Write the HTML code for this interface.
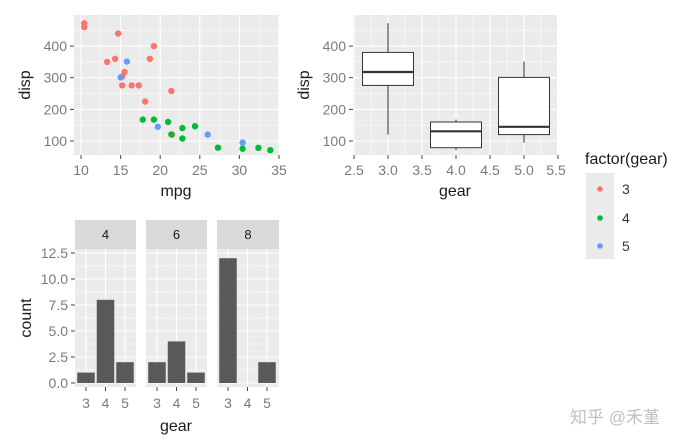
<!DOCTYPE html>
<html><head><meta charset="utf-8"><style>
html,body{margin:0;padding:0;background:#fff;}
svg{display:block;font-family:"Liberation Sans","Noto Sans CJK SC",sans-serif;}
.t{fill:#7a7a7a;font-size:14px;}
.a{fill:#1a1a1a;font-size:16px;}
.mj{stroke:#fff;stroke-width:1.1;}
.mn{stroke:#fff;stroke-width:0.5;}
.tk{stroke:#444;stroke-width:1;}
.bx{fill:#fff;stroke:#333;stroke-width:1;}
.bar{fill:#595959;}
</style></head><body>
<svg width="696" height="447" viewBox="0 0 696 447">
<rect x="74" y="15" width="205" height="140" fill="#EBEBEB"/>
<g class="mn">
<line x1="100.8" y1="15" x2="100.8" y2="155"/><line x1="140.4" y1="15" x2="140.4" y2="155"/><line x1="180" y1="15" x2="180" y2="155"/><line x1="219.6" y1="15" x2="219.6" y2="155"/><line x1="259.2" y1="15" x2="259.2" y2="155"/>
<line x1="74" y1="125.2" x2="279" y2="125.2"/><line x1="74" y1="93.6" x2="279" y2="93.6"/><line x1="74" y1="61.9" x2="279" y2="61.9"/><line x1="74" y1="30.3" x2="279" y2="30.3"/>
</g>
<g class="mj">
<line x1="81" y1="15" x2="81" y2="155"/><line x1="120.6" y1="15" x2="120.6" y2="155"/><line x1="160.2" y1="15" x2="160.2" y2="155"/><line x1="199.8" y1="15" x2="199.8" y2="155"/><line x1="239.4" y1="15" x2="239.4" y2="155"/><line x1="279" y1="15" x2="279" y2="155"/>
<line x1="74" y1="141" x2="279" y2="141"/><line x1="74" y1="109.4" x2="279" y2="109.4"/><line x1="74" y1="77.7" x2="279" y2="77.7"/><line x1="74" y1="46.1" x2="279" y2="46.1"/>
</g>
<g fill="#F8766D">
<circle cx="171.3" cy="91" r="3.2"/><circle cx="149.9" cy="58.8" r="3.2"/><circle cx="145.2" cy="101.5" r="3.2"/><circle cx="115.1" cy="58.8" r="3.2"/><circle cx="131.7" cy="85.4" r="3.2"/><circle cx="138.8" cy="85.4" r="3.2"/><circle cx="122.2" cy="85.4" r="3.2"/><circle cx="84.2" cy="23.3" r="3.2"/><circle cx="84.2" cy="27.1" r="3.2"/><circle cx="118.2" cy="33.5" r="3.2"/><circle cx="172.1" cy="134.6" r="3.2"/><circle cx="124.6" cy="72" r="3.2"/><circle cx="122.2" cy="76.5" r="3.2"/><circle cx="107.1" cy="61.9" r="3.2"/><circle cx="153.9" cy="46.1" r="3.2"/>
</g>
<g fill="#00BA38">
<circle cx="168.1" cy="122" r="3.2"/><circle cx="182.4" cy="138.5" r="3.2"/><circle cx="195" cy="126.2" r="3.2"/><circle cx="182.4" cy="128.1" r="3.2"/><circle cx="153.9" cy="119.6" r="3.2"/><circle cx="142.8" cy="119.6" r="3.2"/><circle cx="258.4" cy="147.8" r="3.2"/><circle cx="242.6" cy="148.7" r="3.2"/><circle cx="270.3" cy="150.2" r="3.2"/><circle cx="218" cy="147.7" r="3.2"/><circle cx="171.3" cy="134.4" r="3.2"/>
</g>
<g fill="#619CFF">
<circle cx="207.7" cy="134.6" r="3.2"/><circle cx="242.6" cy="142.6" r="3.2"/><circle cx="126.9" cy="61.6" r="3.2"/><circle cx="157.8" cy="126.8" r="3.2"/><circle cx="120.6" cy="77.4" r="3.2"/>
</g>
<g class="tk">
<line x1="70" y1="141" x2="74" y2="141"/><line x1="70" y1="109.4" x2="74" y2="109.4"/><line x1="70" y1="77.7" x2="74" y2="77.7"/><line x1="70" y1="46.1" x2="74" y2="46.1"/>
<line x1="81" y1="155" x2="81" y2="159"/><line x1="120.6" y1="155" x2="120.6" y2="159"/><line x1="160.2" y1="155" x2="160.2" y2="159"/><line x1="199.8" y1="155" x2="199.8" y2="159"/><line x1="239.4" y1="155" x2="239.4" y2="159"/><line x1="279" y1="155" x2="279" y2="159"/>
</g>
<g class="t" text-anchor="end">
<text x="67" y="146">100</text><text x="67" y="114.4">200</text><text x="67" y="82.7">300</text><text x="67" y="51.1">400</text>
</g>
<g class="t" text-anchor="middle">
<text x="81" y="175">10</text><text x="120.6" y="175">15</text><text x="160.2" y="175">20</text><text x="199.8" y="175">25</text><text x="239.4" y="175">30</text><text x="279" y="175">35</text>
</g>
<text class="a" x="176" y="196" text-anchor="middle">mpg</text>
<text class="a" transform="translate(30,85) rotate(-90)" text-anchor="middle">disp</text>

<rect x="353" y="15" width="204" height="140" fill="#EBEBEB"/>
<g class="mn">
<line x1="371" y1="15" x2="371" y2="155"/><line x1="405" y1="15" x2="405" y2="155"/><line x1="439" y1="15" x2="439" y2="155"/><line x1="473" y1="15" x2="473" y2="155"/><line x1="507" y1="15" x2="507" y2="155"/><line x1="541" y1="15" x2="541" y2="155"/>
<line x1="353" y1="125.2" x2="557" y2="125.2"/><line x1="353" y1="93.6" x2="557" y2="93.6"/><line x1="353" y1="61.9" x2="557" y2="61.9"/><line x1="353" y1="30.3" x2="557" y2="30.3"/>
</g>
<g class="mj">
<line x1="354" y1="15" x2="354" y2="155"/><line x1="388" y1="15" x2="388" y2="155"/><line x1="422" y1="15" x2="422" y2="155"/><line x1="456" y1="15" x2="456" y2="155"/><line x1="490" y1="15" x2="490" y2="155"/><line x1="524" y1="15" x2="524" y2="155"/>
<line x1="353" y1="141" x2="557" y2="141"/><line x1="353" y1="109.4" x2="557" y2="109.4"/><line x1="353" y1="77.7" x2="557" y2="77.7"/><line x1="353" y1="46.1" x2="557" y2="46.1"/>
</g>
<g stroke="#333" stroke-width="1">
<line x1="388" y1="23.3" x2="388" y2="134.6"/>
<line x1="456" y1="119.6" x2="456" y2="150.2"/>
<line x1="524" y1="61.6" x2="524" y2="142.6"/>
</g>
<rect class="bx" x="362.5" y="52.4" width="51" height="33"/>
<rect class="bx" x="430.5" y="122" width="51" height="25.7"/>
<rect class="bx" x="498.5" y="77.4" width="51" height="57.2"/>
<g stroke="#333" stroke-width="2.2">
<line x1="362.5" y1="72" x2="413.5" y2="72"/>
<line x1="430.5" y1="131.3" x2="481.5" y2="131.3"/>
<line x1="498.5" y1="126.8" x2="549.5" y2="126.8"/>
</g>
<g class="tk">
<line x1="349" y1="141" x2="353" y2="141"/><line x1="349" y1="109.4" x2="353" y2="109.4"/><line x1="349" y1="77.7" x2="353" y2="77.7"/><line x1="349" y1="46.1" x2="353" y2="46.1"/>
<line x1="354" y1="155" x2="354" y2="159"/><line x1="388" y1="155" x2="388" y2="159"/><line x1="422" y1="155" x2="422" y2="159"/><line x1="456" y1="155" x2="456" y2="159"/><line x1="490" y1="155" x2="490" y2="159"/><line x1="524" y1="155" x2="524" y2="159"/><line x1="558" y1="155" x2="558" y2="159"/>
</g>
<g class="t" text-anchor="end">
<text x="346" y="146">100</text><text x="346" y="114.4">200</text><text x="346" y="82.7">300</text><text x="346" y="51.1">400</text>
</g>
<g class="t" text-anchor="middle">
<text x="354" y="175">2.5</text><text x="388" y="175">3.0</text><text x="422" y="175">3.5</text><text x="456" y="175">4.0</text><text x="490" y="175">4.5</text><text x="524" y="175">5.0</text><text x="556" y="175">5.5</text>
</g>
<text class="a" x="455" y="196" text-anchor="middle">gear</text>
<text class="a" transform="translate(309,85) rotate(-90)" text-anchor="middle">disp</text>

<text class="a" x="585" y="164">factor(gear)</text>
<rect x="586" y="173" width="28" height="86" fill="#EBEBEB"/>
<circle cx="600" cy="189" r="2.8" fill="#F8766D"/>
<circle cx="600" cy="218" r="2.8" fill="#00BA38"/>
<circle cx="600" cy="246" r="2.8" fill="#619CFF"/>
<g fill="#333" font-size="14"><text x="622" y="194">3</text><text x="622" y="223">4</text><text x="622" y="251">5</text></g>

<rect x="75" y="220" width="61" height="29" fill="#D9D9D9"/>
<rect x="146" y="220" width="61" height="29" fill="#D9D9D9"/>
<rect x="217" y="220" width="62" height="29" fill="#D9D9D9"/>
<g fill="#1a1a1a" font-size="13" text-anchor="middle"><text x="105.5" y="239">4</text><text x="176.5" y="239">6</text><text x="248" y="239">8</text></g>
<rect x="75" y="249" width="61" height="138" fill="#EBEBEB"/>
<rect x="146" y="249" width="61" height="138" fill="#EBEBEB"/>
<rect x="217" y="249" width="62" height="138" fill="#EBEBEB"/>
<g class="mn">
<line x1="75" y1="370" x2="279" y2="370"/><line x1="75" y1="344" x2="279" y2="344"/><line x1="75" y1="318" x2="279" y2="318"/><line x1="75" y1="292" x2="279" y2="292"/><line x1="75" y1="266" x2="279" y2="266"/>
</g>
<g class="mj">
<line x1="75" y1="383" x2="279" y2="383"/><line x1="75" y1="357" x2="279" y2="357"/><line x1="75" y1="331" x2="279" y2="331"/><line x1="75" y1="305" x2="279" y2="305"/><line x1="75" y1="279" x2="279" y2="279"/><line x1="75" y1="253" x2="279" y2="253"/>
<line x1="86" y1="249" x2="86" y2="387"/><line x1="105.5" y1="249" x2="105.5" y2="387"/><line x1="125" y1="249" x2="125" y2="387"/>
<line x1="157" y1="249" x2="157" y2="387"/><line x1="176.5" y1="249" x2="176.5" y2="387"/><line x1="196" y1="249" x2="196" y2="387"/>
<line x1="228" y1="249" x2="228" y2="387"/><line x1="247.5" y1="249" x2="247.5" y2="387"/><line x1="267" y1="249" x2="267" y2="387"/>
</g>
<g fill="#fff"><rect x="136" y="249" width="10" height="138"/><rect x="207" y="249" width="10" height="138"/></g>
<g class="bar">
<rect x="77.25" y="372.6" width="17.5" height="10.4"/>
<rect x="96.75" y="299.8" width="17.5" height="83.2"/>
<rect x="116.25" y="362.2" width="17.5" height="20.8"/>
<rect x="148.25" y="362.2" width="17.5" height="20.8"/>
<rect x="167.75" y="341.4" width="17.5" height="41.6"/>
<rect x="187.25" y="372.6" width="17.5" height="10.4"/>
<rect x="219.25" y="258.2" width="17.5" height="124.8"/>
<rect x="258.25" y="362.2" width="17.5" height="20.8"/>
</g>
<g class="tk">
<line x1="71" y1="383" x2="75" y2="383"/><line x1="71" y1="357" x2="75" y2="357"/><line x1="71" y1="331" x2="75" y2="331"/><line x1="71" y1="305" x2="75" y2="305"/><line x1="71" y1="279" x2="75" y2="279"/><line x1="71" y1="253" x2="75" y2="253"/>
<line x1="86" y1="387" x2="86" y2="391"/><line x1="105.5" y1="387" x2="105.5" y2="391"/><line x1="125" y1="387" x2="125" y2="391"/>
<line x1="157" y1="387" x2="157" y2="391"/><line x1="176.5" y1="387" x2="176.5" y2="391"/><line x1="196" y1="387" x2="196" y2="391"/>
<line x1="228" y1="387" x2="228" y2="391"/><line x1="247.5" y1="387" x2="247.5" y2="391"/><line x1="267" y1="387" x2="267" y2="391"/>
</g>
<g class="t" text-anchor="end">
<text x="68" y="388">0.0</text><text x="68" y="362">2.5</text><text x="68" y="336">5.0</text><text x="68" y="310">7.5</text><text x="68" y="284">10.0</text><text x="68" y="258">12.5</text>
</g>
<g class="t" text-anchor="middle">
<text x="86" y="408">3</text><text x="105.5" y="408">4</text><text x="125" y="408">5</text>
<text x="157" y="408">3</text><text x="176.5" y="408">4</text><text x="196" y="408">5</text>
<text x="228" y="408">3</text><text x="247.5" y="408">4</text><text x="267" y="408">5</text>
</g>
<text class="a" x="176" y="431" text-anchor="middle">gear</text>
<text class="a" transform="translate(31,318) rotate(-90)" text-anchor="middle">count</text>

<text x="570" y="423" font-size="17" fill="#c0c0c0">知乎 @禾堇</text>
</svg>
</body></html>
